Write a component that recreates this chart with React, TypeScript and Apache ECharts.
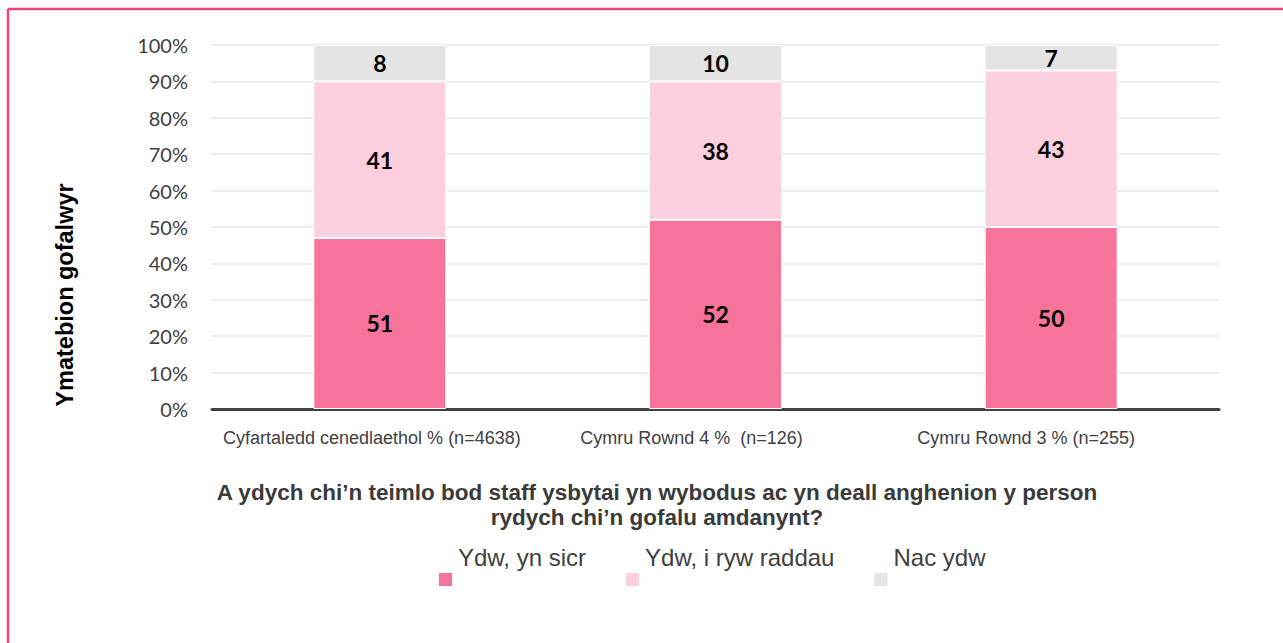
import React, { useEffect, useRef } from "react";
import * as echarts from "echarts";

const categories = [
  "Cyfartaledd cenedlaethol % (n=4638)",
  "Cymru Rownd 4 %  (n=126)",
  "Cymru Rownd 3 % (n=255)",
];
const seriesNames = ["Ydw, yn sicr", "Ydw, i ryw raddau", "Nac ydw"];
// bar heights as drawn
const ydwSicr = [47, 52, 50];
const ydwRhyw = [43, 38, 43];
const nacYdw = [10, 10, 7];
// printed data labels
const ydwSicrLabels = [51, 52, 50];
const ydwRhywLabels = [41, 38, 43];
const nacYdwLabels = [8, 10, 7];
const yTicks = [0, 100, 10];

const colors = ["#F67399", "#FBCFDD", "#E4E4E4"];
const questionTitle =
  "A ydych chi\u2019n teimlo bod staff ysbytai yn wybodus ac yn deall anghenion y person\nrydych chi\u2019n gofalu amdanynt?";
const yTitle = "Ymatebion gofalwyr";

export default function App() {
  const ref = useRef<HTMLDivElement>(null);
  useEffect(() => {
    if (!ref.current) return;
    const chart = echarts.init(ref.current, null, { renderer: "svg" });
    const labelSets = [ydwSicrLabels, ydwRhywLabels, nacYdwLabels];
    const dataSets = [ydwSicr, ydwRhyw, nacYdw];
    const shifts = [16, 48, 50];
    const xl = { fontFamily: "Liberation Sans", fontSize: 18, color: "#404040" };
    chart.setOption({
      animation: false,
      color: colors,
      grid: { left: 212, right: 64, top: 45, bottom: 234 },
      title: {
        text: questionTitle,
        left: 652,
        top: 475,
        textAlign: "center",
        textStyle: {
          fontFamily: "Liberation Sans",
          fontWeight: "bold",
          fontSize: 22.5,
          lineHeight: 25,
          color: "#3A3A3A",
        },
      },
      legend: {
        left: 437,
        top: 545,
        padding: 0,
        itemWidth: 15,
        itemHeight: 15,
        itemGap: 38,
        icon: "rect",
        data: seriesNames,
        formatter: (n: string) => `{t|${n}}`,
        textStyle: {
          rich: {
            t: {
              fontFamily: "Liberation Sans",
              fontSize: 24,
              lineHeight: 24,
              color: "#404040",
              padding: [0, 0, 45, 0],
            },
          },
        },
      },
      xAxis: {
        type: "category",
        data: categories,
        axisTick: { show: false },
        axisLine: { lineStyle: { color: "#404040", width: 3 } },
        axisLabel: {
          margin: 20,
          formatter: (v: string) => {
            const i = categories.indexOf(v);
            return `{c${i}|${v}}`;
          },
          rich: {
            c0: { ...xl, padding: [0, shifts[0], 0, 0] },
            c1: { ...xl, padding: [0, shifts[1], 0, 0] },
            c2: { ...xl, padding: [0, shifts[2], 0, 0] },
          },
        },
      },
      yAxis: {
        type: "value",
        min: yTicks[0],
        max: yTicks[1],
        interval: yTicks[2],
        axisLine: { show: false },
        axisTick: { show: false },
        axisLabel: {
          formatter: "{value}%",
          margin: 24,
          fontFamily: "Lato",
          fontSize: 20,
          color: "#404040",
        },
        splitLine: { lineStyle: { color: "#E6E6E6", width: 1.5 } },
      },
      graphic: [
        {
          type: "line",
          shape: { x1: 8, y1: 9, x2: 1283, y2: 9 },
          style: { stroke: "#EE4479", lineWidth: 2.5 },
        },
        {
          type: "line",
          shape: { x1: 8, y1: 9, x2: 8, y2: 643 },
          style: { stroke: "#EE4479", lineWidth: 2.5 },
        },
        {
          type: "text",
          x: 65,
          y: 295,
          rotation: Math.PI / 2,
          style: {
            text: yTitle,
            fontFamily: "Liberation Sans",
            fontWeight: "bold",
            fontSize: 23.5,
            fill: "#000",
            align: "center",
            verticalAlign: "middle",
          },
        },
      ],
      series: seriesNames.map((name, si) => ({
        name,
        type: "bar",
        stack: "total",
        barWidth: 133,
        data: dataSets[si],
        itemStyle: { color: colors[si], borderColor: "#fff", borderWidth: 1 },
        label: {
          show: true,
          position: "inside",
          formatter: (p: any) => String(labelSets[si][p.dataIndex]),
          fontFamily: "Lato",
          fontWeight: "bold",
          fontSize: 23,
          color: "#000",
        },
      })),
    });
    return () => chart.dispose();
  }, []);
  return (
    <div
      ref={ref}
      style={{ position: "fixed", left: 0, top: 0, width: 1283, height: 643, background: "#fff" }}
    />
  );
}
